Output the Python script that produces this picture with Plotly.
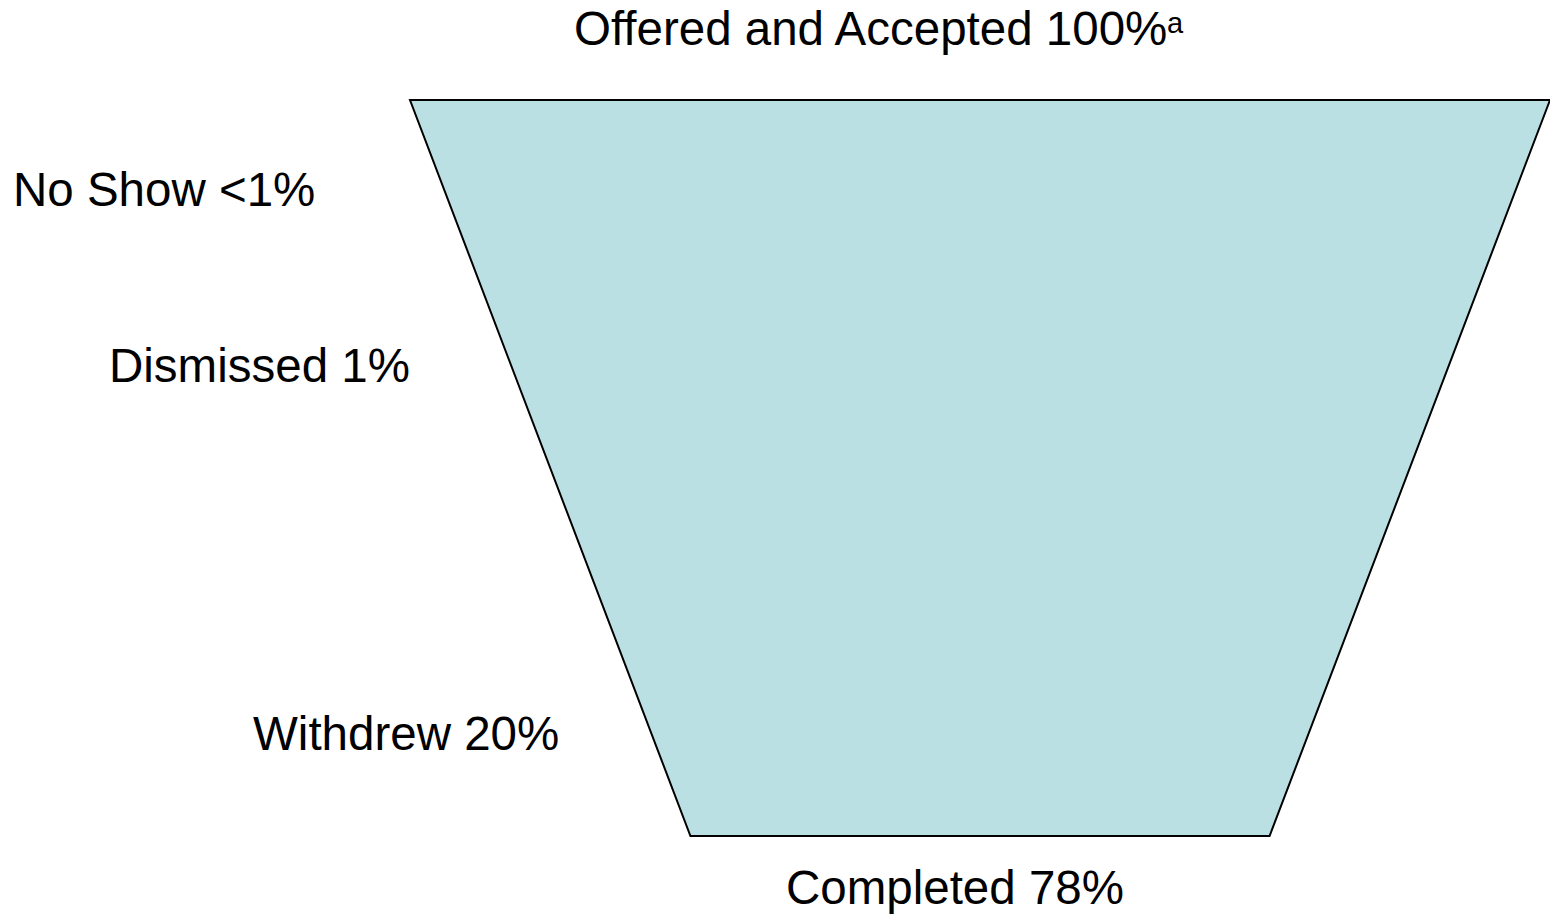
import plotly.graph_objects as go

# ---- data ----
stages = ["Offered and Accepted", "No Show", "Dismissed", "Withdrew", "Completed"]
pct_labels = ["100%", "<1%", "1%", "20%", "78%"]
funnel_values = [100]          # the single funnel body (all who offered & accepted)
footnote = "a"

W, H = 1550, 917
FONT = "Arial, Liberation Sans, sans-serif"
FS = 47.5

fig = go.Figure()
fig.add_trace(go.Funnelarea(
    values=funnel_values,
    labels=[stages[0]],
    textinfo="none",
    hoverinfo="skip",
    showlegend=False,
    baseratio=0.508,
    aspectratio=736 / 1140,
    domain=dict(x=[410 / W, 1.0], y=[1 - 836 / H, 1 - 100 / H]),
    marker=dict(colors=["#BBE0E3"], line=dict(color="black", width=2)),
))

# label placement (left x, centre y in figure pixels)
label_pos = {
    "Offered and Accepted": (572, 28.5),
    "No Show": (11, 189),
    "Dismissed": (107, 365),
    "Withdrew": (251, 733),
    "Completed": (784, 887),
}

annotations = []
for name, pct in zip(stages, pct_labels):
    x, y = label_pos[name]
    annotations.append(dict(
        text=f"{name} {pct}", x=x / W, y=1 - y / H, xref="paper", yref="paper",
        xanchor="left", yanchor="middle", showarrow=False,
        font=dict(family=FONT, size=FS, color="black"),
    ))

# footnote marker after the top label
annotations.append(dict(
    text=footnote, x=1165 / W, y=1 - 23 / H, xref="paper", yref="paper",
    xanchor="left", yanchor="middle", showarrow=False,
    font=dict(family=FONT, size=29, color="black"),
))

fig.update_layout(
    width=W, height=H,
    margin=dict(l=0, r=0, t=0, b=0),
    paper_bgcolor="white", plot_bgcolor="white",
    annotations=annotations,
)
fig.write_html(
    "out.html",
    config={"displayModeBar": False},
    post_script="document.body.style.margin='0';document.body.style.overflow='hidden';",
)
